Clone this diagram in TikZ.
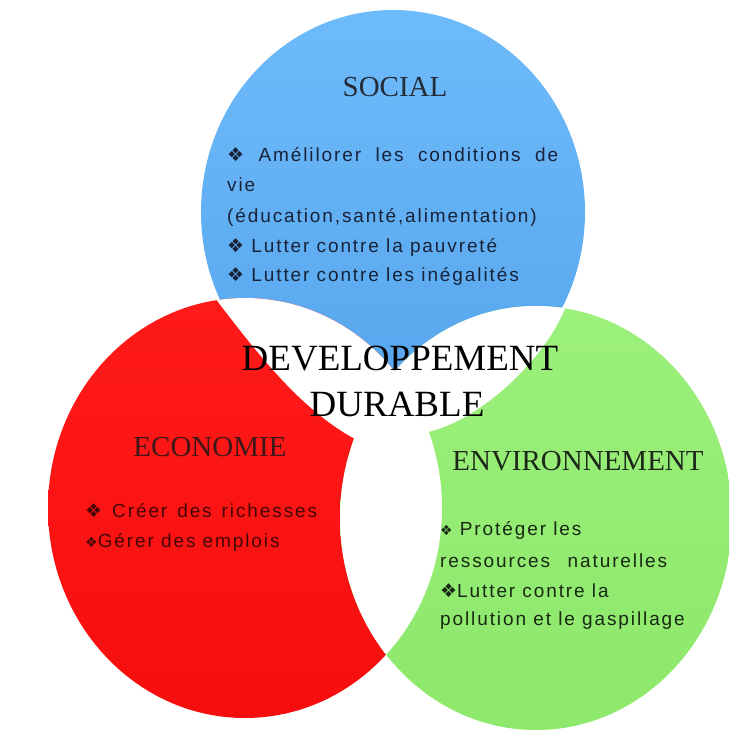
\documentclass[tikz,border=0pt]{standalone}
\usepackage{fontspec}
\setmainfont{Liberation Serif}
\newfontfamily\headfont{Liberation Serif}
\newfontfamily\titlefont{Liberation Serif}
\newfontfamily\bodyfont[LetterSpace=10]{Liberation Sans}
\newfontfamily\symfont{DejaVu Sans}
\newcommand{\vbul}{{\symfont ❖}}
\newcommand{\vbulsmall}{{\symfont\fontsize{14}{14}\selectfont ❖}}
\definecolor{bluetop}{RGB}{110,187,251}
\definecolor{bluebot}{RGB}{86,164,236}
\definecolor{redtop}{RGB}{255,26,26}
\definecolor{redbot}{RGB}{246,14,14}
\definecolor{greentop}{RGB}{156,240,124}
\definecolor{greenbot}{RGB}{141,232,107}
\definecolor{socialtxt}{RGB}{24,34,56}
\definecolor{socialhead}{RGB}{36,44,56}
\definecolor{ecotxt}{RGB}{70,6,6}
\definecolor{ecohead}{RGB}{62,22,22}
\definecolor{envtxt}{RGB}{24,40,18}
\definecolor{envhead}{RGB}{28,40,24}
\tikzset{
  head/.style={font=\headfont\fontsize{29}{34}\selectfont, inner sep=0pt, anchor=base},
  body/.style={font=\bodyfont\fontsize{19}{24}\selectfont, inner sep=0pt, anchor=base west},
  ttl/.style={font=\titlefont\fontsize{37}{44}\selectfont, inner sep=0pt, anchor=base, text=black},
}
\begin{document}
\begin{tikzpicture}[x=1pt,y=-1pt]
\useasboundingbox (0,0) rectangle (728,733);
\fill[white] (0,0) rectangle (728,733);
% circles
\path[top color=bluetop,bottom color=bluebot] (393,212) ellipse [x radius=192pt, y radius=202pt];
\path[top color=redtop,bottom color=redbot] (245,508) ellipse [x radius=197pt, y radius=210pt];
\path[top color=greentop,bottom color=greenbot] (536,518) ellipse [x radius=196pt, y radius=212pt];
% white overlaps
\begin{scope}
  \clip (245,508) ellipse [x radius=197pt, y radius=210pt];
  \fill[white] (536,518) ellipse [x radius=196pt, y radius=212pt];
\end{scope}
\begin{scope}
  \clip (245,508) ellipse [x radius=197pt, y radius=210pt];
  \fill[white] (215,298) .. controls (255,350) and (300,410) .. (357,440)
     -- (470,440) -- (470,270) -- (215,270) -- cycle;
\end{scope}
\begin{scope}
  \clip (536,518) ellipse [x radius=196pt, y radius=212pt];
  \fill[white] (566,306) .. controls (545,360) and (480,420) .. (428,432)
     -- (428,446) -- (320,446) -- (320,270) -- (566,270) -- cycle;
\end{scope}
% headings
\node[head, text=socialhead] (social) at (395,97) {SOCIAL};
\node[head, text=ecohead] (eco) at (210,456) {ECONOMIE};
\node[head, text=envhead] (env) at (578,470) {ENVIRONNEMENT};
% social text
\node[body, text=socialtxt] (s1) at (227,161) {\makebox[331pt][s]{\vbul\ Amélilorer les conditions de}};
\node[body, text=socialtxt] (s2) at (227,191) {vie};
\node[body, text=socialtxt] (s3) at (227,222) {(éducation,santé,alimentation)};
\node[body, text=socialtxt] (s4) at (227,252) {\vbul\ Lutter contre la pauvreté};
\node[body, text=socialtxt] (s5) at (227,281) {\vbul\ Lutter contre les inégalités};
% economie text
\node[body, text=ecotxt] (e1) at (85,517) {\makebox[232pt][s]{\vbul\ Créer des richesses}};
\node[body, text=ecotxt] (e2) at (85,547) {\vbulsmall Gérer des emplois};
% environnement text
\node[body, text=envtxt] (v1) at (440,535) {\vbulsmall\ Protéger les};
\node[body, text=envtxt] (v2) at (440,567) {\makebox[227pt][s]{ressources naturelles}};
\node[body, text=envtxt] (v3) at (440,597) {\vbul Lutter contre la};
\node[body, text=envtxt] (v4) at (440,625) {pollution et le gaspillage};
% title
\node[ttl] (t1) at (400,370) {DEVELOPPEMENT};
\node[ttl] (t2) at (397,416) {DURABLE};
\end{tikzpicture}
\end{document}
